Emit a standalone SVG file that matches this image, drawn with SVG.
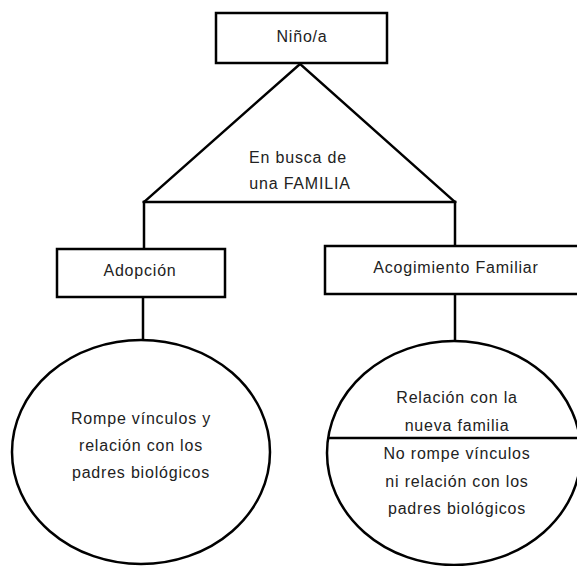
<svg xmlns="http://www.w3.org/2000/svg" width="577" height="566" viewBox="0 0 577 566">
<style>
.shape{fill:#fff;stroke:#000;stroke-width:2.5}
.conn line{stroke:#000;stroke-width:2.5;stroke-linecap:square}
text{font-family:"Liberation Sans",Arial,sans-serif;font-size:16px;fill:#222;text-anchor:middle;letter-spacing:0.8px}
</style>
<rect width="577" height="566" fill="#fff"/>
<g id="connectors" class="conn">
<line x1="300" y1="64" x2="144" y2="202"/>
<line x1="300" y1="64" x2="455" y2="202"/>
<line x1="144" y1="202" x2="455" y2="202"/>
<line x1="144" y1="202" x2="144" y2="248"/>
<line x1="455" y1="202" x2="455" y2="245"/>
<line x1="143" y1="298" x2="143" y2="340"/>
<line x1="455" y1="295" x2="455" y2="341"/>
</g>
<g id="nino">
<rect class="shape" x="216" y="13" width="171" height="50"/>
<text x="302" y="42">Niño/a</text>
</g>
<g id="busca">
<text x="298" y="163">En busca de</text>
<text x="300" y="189">una FAMILIA</text>
</g>
<g id="adopcion">
<rect class="shape" x="57" y="249" width="168" height="48"/>
<text x="140" y="276">Adopción</text>
</g>
<g id="acogimiento">
<rect class="shape" x="325" y="246" width="262" height="48"/>
<text x="456" y="273">Acogimiento Familiar</text>
</g>
<g id="rompe">
<ellipse class="shape" cx="141" cy="452" rx="129" ry="112"/>
<text x="141" y="424">Rompe vínculos y</text>
<text x="141" y="451">relación con los</text>
<text x="141" y="478">padres biológicos</text>
</g>
<g id="no-rompe">
<ellipse class="shape" cx="454" cy="453" rx="127" ry="112"/>
<line x1="328" y1="438" x2="577" y2="438" stroke="#000" stroke-width="2.5"/>
<text x="457" y="403">Relación con la</text>
<text x="457" y="431">nueva familia</text>
<text x="457" y="459">No rompe vínculos</text>
<text x="457" y="487">ni relación con los</text>
<text x="457" y="514">padres biológicos</text>
</g>
</svg>
